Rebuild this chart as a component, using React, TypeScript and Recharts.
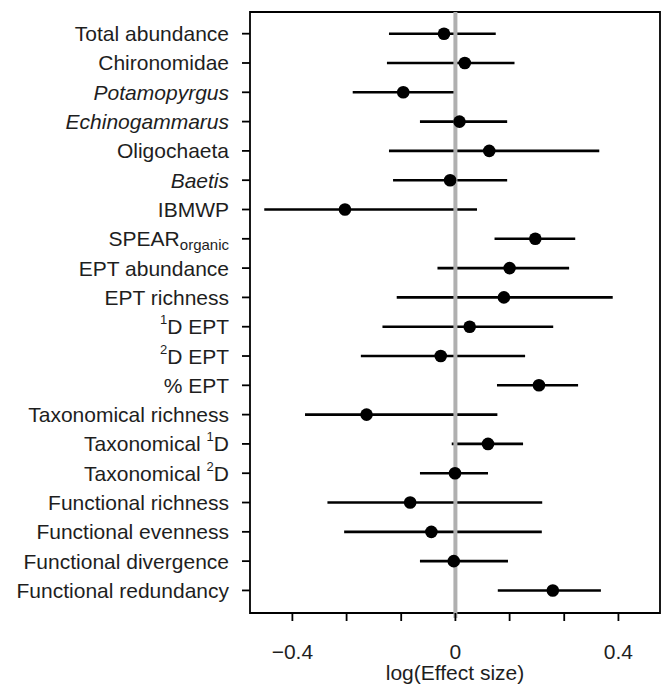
import {
  ScatterChart,
  Scatter,
  XAxis,
  YAxis,
  ErrorBar,
  ReferenceLine,
  ReferenceArea,
} from "recharts";

type Seg = { t: string; i?: boolean; sup?: boolean; sub?: boolean };

// response variables, top to bottom
const rowLabels: Seg[][] = [
  [{ t: "Total abundance" }],
  [{ t: "Chironomidae" }],
  [{ t: "Potamopyrgus", i: true }],
  [{ t: "Echinogammarus", i: true }],
  [{ t: "Oligochaeta" }],
  [{ t: "Baetis", i: true }],
  [{ t: "IBMWP" }],
  [{ t: "SPEAR" }, { t: "organic", sub: true }],
  [{ t: "EPT abundance" }],
  [{ t: "EPT richness" }],
  [{ t: "1", sup: true }, { t: "D EPT" }],
  [{ t: "2", sup: true }, { t: "D EPT" }],
  [{ t: "% EPT" }],
  [{ t: "Taxonomical richness" }],
  [{ t: "Taxonomical " }, { t: "1", sup: true }, { t: "D" }],
  [{ t: "Taxonomical " }, { t: "2", sup: true }, { t: "D" }],
  [{ t: "Functional richness" }],
  [{ t: "Functional evenness" }],
  [{ t: "Functional divergence" }],
  [{ t: "Functional redundancy" }],
];

const estimates = [
  -0.028, 0.023, -0.128, 0.01, 0.083, -0.013, -0.271, 0.196, 0.133, 0.119,
  0.035, -0.036, 0.205, -0.218, 0.08, -0.001, -0.111, -0.059, -0.004, 0.239,
];
const lowerCI = [
  -0.163, -0.168, -0.252, -0.087, -0.163, -0.153, -0.469, 0.096, -0.044, -0.144,
  -0.179, -0.232, 0.102, -0.369, -0.009, -0.087, -0.314, -0.273, -0.087, 0.104,
];
const upperCI = [
  0.099, 0.145, 0.0, 0.127, 0.353, 0.127, 0.053, 0.294, 0.279, 0.386,
  0.24, 0.171, 0.301, 0.103, 0.166, 0.08, 0.213, 0.212, 0.129, 0.357,
];

const xTicks = [-0.4, -0.267, -0.133, 0, 0.133, 0.267, 0.4];
const xTickText = ["\u22120.4", "", "", "0", "", "", "0.4"];
const rowTicks = rowLabels.map((_, i) => i + 1);

const data = rowLabels.map((_, i) => ({
  y: i + 1,
  x: estimates[i],
  err: [estimates[i] - lowerCI[i], upperCI[i] - estimates[i]],
}));

const FONT = "'Liberation Sans', Arial, Helvetica, sans-serif";
const INK = "#1e1e1e";

function RowTick(props: any) {
  const { x, y, payload } = props;
  const segs = rowLabels[payload.value - 1] || [];
  let shift = 0;
  const spans = segs.map((s, k) => {
    let dy = 0;
    let size = 21;
    if (s.sup) {
      size = 13;
      dy = -10 - shift;
    } else if (s.sub) {
      size = 15;
      dy = 4 - shift;
    } else {
      dy = -shift;
    }
    shift += dy;
    return (
      <tspan
        key={k}
        dy={dy}
        fontSize={size}
        fontStyle={s.i ? "italic" : "normal"}
      >
        {s.t}
      </tspan>
    );
  });
  return (
    <text
      x={x}
      y={y + 7.5}
      textAnchor="end"
      fill={INK}
      fontFamily={FONT}
      fontSize={21}
    >
      {spans}
    </text>
  );
}

const dot = (p: any) => <circle cx={p.cx} cy={p.cy} r={6.3} fill="#000" />;
const none = () => <g />;

export default function App() {
  return (
    <div style={{ position: "absolute", left: 0, top: 0, background: "#fff" }}>
      <ScatterChart
        width={662}
        height={688}
        margin={{ top: 12, right: 2, bottom: 0, left: 0 }}
      >
        <XAxis
          type="number"
          dataKey="x"
          domain={[-0.504, 0.502]}
          ticks={xTicks}
          tickFormatter={(v, i) => xTickText[i] ?? ""}
          axisLine={false}
          tickSize={8}
          tickMargin={23}
          tickLine={{ stroke: "#000", strokeWidth: 1.8 }}
          tick={{ fontSize: 21, fill: INK, fontFamily: FONT }}
          height={75}
          allowDataOverflow
          label={{
            value: "log(Effect size)",
            position: "insideBottom",
            offset: 8,
            fontSize: 21,
            fill: INK,
            fontFamily: FONT,
          }}
        />
        <YAxis
          type="number"
          dataKey="y"
          domain={[0.26, 20.77]}
          reversed
          ticks={rowTicks}
          width={250}
          axisLine={false}
          tickSize={8}
          tickMargin={13}
          tickLine={{ stroke: "#000", strokeWidth: 1.8 }}
          tick={<RowTick />}
          interval={0}
          allowDataOverflow
        />
        <ReferenceArea
          x1={-0.504}
          x2={0.502}
          y1={0.26}
          y2={20.77}
          fill="none"
          stroke="#000"
          strokeWidth={1.8}
          ifOverflow="visible"
        />
        <Scatter data={data} shape={none} isAnimationActive={false}>
          <ErrorBar
            dataKey="err"
            direction="x"
            width={0}
            stroke="#000"
            strokeWidth={2.6}
            isAnimationActive={false}
          />
        </Scatter>
        <ReferenceLine
          segment={[
            { x: 0, y: 0.26 },
            { x: 0, y: 20.94 },
          ]}
          stroke="#b0b0b0"
          strokeWidth={4}
          ifOverflow="visible"
        />
        <Scatter data={data} shape={dot} isAnimationActive={false} />
      </ScatterChart>
    </div>
  );
}
